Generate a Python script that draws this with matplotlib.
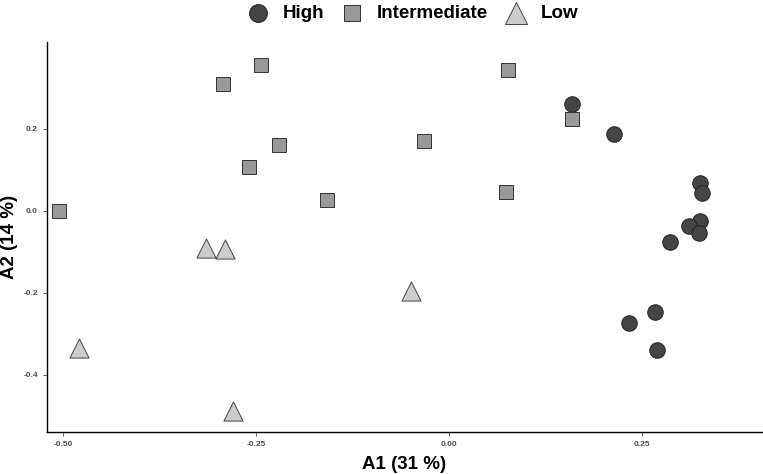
import matplotlib
matplotlib.use("Agg")
import matplotlib.pyplot as plt

plt.rcParams['font.family'] = ['Liberation Sans', 'DejaVu Sans']

groups = ["High", "Intermediate", "Low"]

high_x = [0.159, 0.214, 0.325, 0.327, 0.325, 0.310, 0.324, 0.286, 0.233, 0.267, 0.269]
high_y = [0.261, 0.188, 0.068, 0.044, -0.024, -0.037, -0.054, -0.076, -0.273, -0.246, -0.339]

inter_x = [-0.505, -0.293, -0.244, -0.220, -0.259, -0.158, -0.032, 0.076, 0.159, 0.073]
inter_y = [0.0, 0.310, 0.356, 0.161, 0.107, 0.027, 0.171, 0.344, 0.224, 0.046]

low_x = [-0.479, -0.315, -0.290, -0.049, -0.280]
low_y = [-0.334, -0.090, -0.093, -0.195, -0.488]

xticks = [-0.50, -0.25, 0.00, 0.25]
xtick_labels = ["-0.50", "-0.25", "0.00", "0.25"]
yticks = [-0.4, -0.2, 0.0, 0.2]
ytick_labels = ["-0.4", "-0.2", "0.0", "0.2"]

fig = plt.figure(figsize=(7.63, 4.74), dpi=100)
ax = fig.add_axes([47 / 763, (474 - 432) / 474, (762 - 47) / 763, (432 - 42) / 474])

ax.scatter(high_x, high_y, s=125, marker="o", c="#454545", edgecolors="#222222", linewidths=0.7, label=groups[0], zorder=3)
ax.scatter(inter_x, inter_y, s=105, marker="s", c="#999999", edgecolors="#333333", linewidths=0.7, label=groups[1], zorder=3)
ax.scatter(low_x, low_y, s=190, marker="^", c="#cccccc", edgecolors="#444444", linewidths=0.7, label=groups[2], zorder=3)

ax.set_xlim(-0.5207, 0.405)
ax.set_ylim(-0.539, 0.412)

ax.set_xticks(xticks)
ax.set_xticklabels(xtick_labels)
ax.set_yticks(yticks)
ax.set_yticklabels(ytick_labels)
ax.tick_params(axis="both", labelsize=6, colors="#4d4d4d", length=3, width=0.6)
for lab in ax.get_xticklabels() + ax.get_yticklabels():
    lab.set_fontweight("bold")

for side in ["top", "right"]:
    ax.spines[side].set_visible(False)
for side in ["left", "bottom"]:
    ax.spines[side].set_linewidth(1.0)
    ax.spines[side].set_color("black")

ax.set_xlabel("A1 (31 %)", fontsize=13.5, fontweight="bold", labelpad=6)
ax.set_ylabel("A2 (14 %)", fontsize=13.5, fontweight="bold", labelpad=4)

fig.legend(loc="upper center", bbox_to_anchor=(0.542, 1.025), ncol=3, frameon=False,
           prop={"size": 13.5, "weight": "bold"}, handlelength=1.0, handletextpad=0.8,
           columnspacing=1.0, markerscale=1.15)

fig.savefig("out.png", dpi=100)
